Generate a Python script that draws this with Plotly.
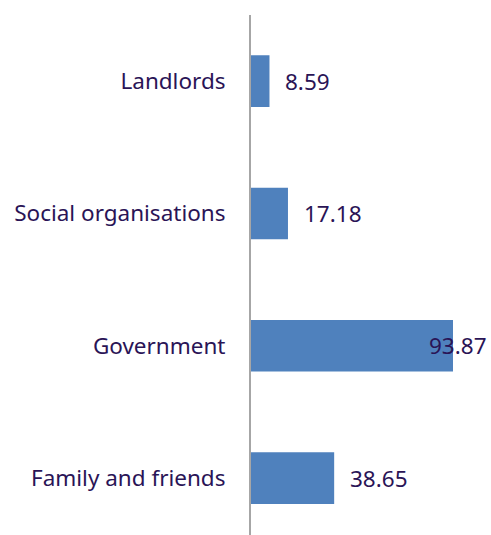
import plotly.graph_objects as go

categories = ['Family and friends', 'Government', 'Social organisations', 'Landlords']
values = [38.65, 93.87, 17.18, 8.59]
labels = ['38.65', '93.87', '17.18', '8.59']

bar_color = '#4f81bd'
text_color = '#2a1456'
font_family = 'Noto Sans, Open Sans, sans-serif'
font_size = 22.5

x_max = 110.6
px_per_unit = 2.152

fig = go.Figure(
    go.Bar(
        x=values,
        y=categories,
        orientation='h',
        marker=dict(color=bar_color, line=dict(width=0)),
        hoverinfo='skip',
    )
)

# value labels sit right of the bar, pulled back inside when they'd overflow
for cat, val, lab in zip(categories, values, labels):
    est_width = len(lab) * font_size * 0.55 + 16
    fits = val + est_width / px_per_unit < x_max
    fig.add_annotation(
        x=val if fits else x_max,
        y=cat,
        text=lab,
        showarrow=False,
        xanchor='left' if fits else 'right',
        xshift=14 if fits else 0,
        font=dict(size=font_size, color=text_color, family=font_family),
    )

fig.update_xaxes(
    range=[0, x_max],
    visible=False,
    showgrid=False,
    zeroline=False,
)
fig.update_yaxes(
    categoryorder='array',
    categoryarray=categories,
    range=[-0.43, 3.5],
    showline=True,
    linecolor='#a6a6a6',
    linewidth=2,
    showgrid=False,
    zeroline=False,
    ticks='',
    ticklabelstandoff=19,
    tickfont=dict(size=font_size, color=text_color, family=font_family),
)

fig.update_layout(
    width=491,
    height=535,
    margin=dict(l=251, r=2, t=15, b=0),
    bargap=0.61,
    plot_bgcolor='white',
    paper_bgcolor='white',
    showlegend=False,
)

# drop the browser's default 8px body margin so the figure fills the window
fig.write_html(
    "out.html",
    config={'displayModeBar': False},
    post_script="document.body.style.margin='0';document.body.style.overflow='hidden';",
)
